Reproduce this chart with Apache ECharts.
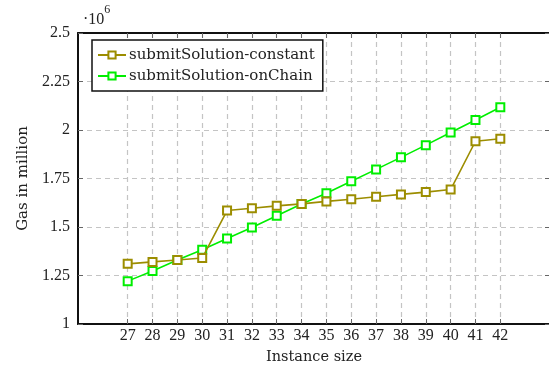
<!DOCTYPE html>
<html><head><meta charset="utf-8">
<script src="https://cdn.jsdelivr.net/npm/echarts@6/dist/echarts.min.js"></script>
<style>html,body{margin:0;padding:0;background:#fff}#c{width:549px;height:369px}</style>
</head><body><div id="c"></div>
<script>
const categories = [27,28,29,30,31,32,33,34,35,36,37,38,39,40,41,42];
const constantGas = [1.31,1.32,1.33,1.34,1.585,1.597,1.609,1.619,1.632,1.643,1.656,1.668,1.68,1.693,1.942,1.955];
const onChainGas = [1.221,1.273,1.33,1.383,1.441,1.497,1.558,1.619,1.674,1.736,1.797,1.859,1.922,1.987,2.052,2.117];
const yTicks = [1,1.25,1.5,1.75,2,2.25,2.5];
const seriesNames = ['submitSolution-constant','submitSolution-onChain'];

const FONT = 'Liberation Serif';
const WFONT = 'DejaVu Serif';
const OLIVE = '#9c8d00', GREEN = '#00ee00';
// pad the category axis: two empty slots before and after
const padBefore = [25,26], padAfter = [43,44];
const axisCats = padBefore.concat(categories, padAfter).map(String);
const pad = a => [null,null].concat(a,[null,null]);
const realIdx = i => categories.indexOf(Number(axisCats[i])) >= 0;

const chart = echarts.init(document.getElementById('c'), null, {renderer:'canvas'});
const grid = {left:78, top:33, width:472, height:291, outerBoundsMode:'none', containLabel:false};
const dash = {color:'#c4c4c4', type:[5,4], width:1.2};
chart.setOption({
  animation:false,
  backgroundColor:'#fff',
  textStyle:{fontFamily:FONT},
  grid,
  legend:{
    left:92, top:40, orient:'vertical',
    backgroundColor:'#fff', borderColor:'#111', borderWidth:1.5, borderRadius:0,
    padding:[7,8,7,5], itemGap:5, itemWidth:28, itemHeight:9,
    textStyle:{fontFamily:WFONT, fontSize:15, color:'#222', padding:[0,0,0,-2], lineHeight:16},
    data:seriesNames
  },
  graphic:[{type:'text', left:83, top:4, style:{
    text:'{a|·10}{b|6}', rich:{
      a:{fontFamily:FONT,fontSize:16,fill:'#222',verticalAlign:'bottom', padding:[8,0,0,0]},
      b:{fontFamily:FONT,fontSize:12,fill:'#222',verticalAlign:'top'}}}}],
  xAxis:[{
    type:'category', data:axisCats, boundaryGap:false,
    name:'Instance size', nameLocation:'middle', nameGap:26,
    nameTextStyle:{fontFamily:WFONT, fontSize:14.5, color:'#222'},
    axisLine:{lineStyle:{color:'#111', width:2}},
    axisTick:{show:true, inside:true, length:5, interval:realIdx, lineStyle:{color:'#666', width:1}},
    axisLabel:{interval:realIdx, fontFamily:FONT, fontSize:16, color:'#222', margin:4},
    splitLine:{show:true, interval:realIdx, lineStyle:dash}
  },{
    type:'category', data:axisCats, boundaryGap:false, position:'top',
    axisLine:{lineStyle:{color:'#111', width:2}},
    axisTick:{show:true, inside:true, length:5, interval:realIdx, lineStyle:{color:'#666', width:1}},
    axisLabel:{show:false}, splitLine:{show:false}
  }],
  yAxis:[{
    type:'value', min:yTicks[0], max:yTicks[yTicks.length-1], interval:0.25,
    name:'Gas in million', nameLocation:'middle', nameGap:47,
    nameTextStyle:{fontFamily:WFONT, fontSize:15, color:'#222'},
    axisLine:{show:true, lineStyle:{color:'#111', width:2}},
    axisTick:{show:true, inside:true, length:5, lineStyle:{color:'#666', width:1}},
    axisLabel:{fontFamily:FONT, fontSize:16, color:'#222', margin:8},
    splitLine:{show:true, lineStyle:dash}
  },{
    type:'value', min:yTicks[0], max:yTicks[yTicks.length-1], interval:0.25, position:'right',
    axisLine:{show:true, lineStyle:{color:'#111', width:2}},
    axisTick:{show:true, inside:true, length:5, lineStyle:{color:'#666', width:1}},
    axisLabel:{show:false}, splitLine:{show:false}
  }],
  series:[
    {name:seriesNames[0], type:'line', data:pad(constantGas), color:OLIVE,
     symbol:'emptyRect', symbolSize:8, lineStyle:{color:OLIVE, width:1.6},
     itemStyle:{color:OLIVE, borderWidth:1.6}, z:3},
    {name:seriesNames[1], type:'line', data:pad(onChainGas), color:GREEN,
     symbol:'emptyRect', symbolSize:8, lineStyle:{color:GREEN, width:1.6},
     itemStyle:{color:GREEN, borderWidth:1.6}, z:2}
  ]
});
</script></body></html>
